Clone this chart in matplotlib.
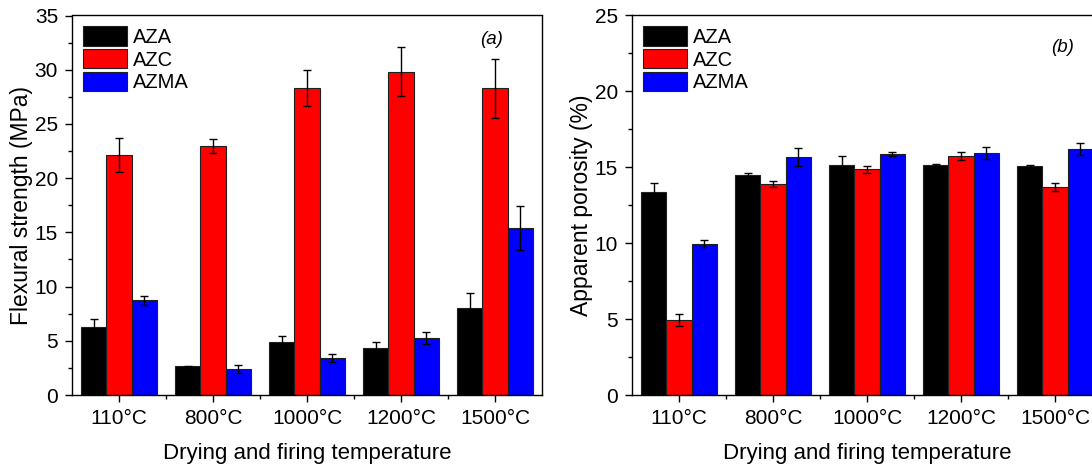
"""
Flexural strength (a) and apparent porosity (b) of the AZA / AZC / AZMA
samples after drying and firing at each temperature.
"""
import matplotlib
matplotlib.use("Agg")
import matplotlib.pyplot as plt
import numpy as np

plt.rcParams["font.family"] = ["Liberation Sans", "DejaVu Sans"]

temps = ["110°C", "800°C", "1000°C", "1200°C", "1500°C"]
series = ["AZA", "AZC", "AZMA"]
colors = ["#000000", "#ff0000", "#0000ff"]

# (a) flexural strength, MPa
strength_aza = [6.25, 2.65, 4.88, 4.33, 7.98]
strength_azc = [22.13, 22.96, 28.3, 29.81, 28.27]
strength_azma = [8.73, 2.43, 3.41, 5.29, 15.4]
strength_aza_err = [0.77, 0.06, 0.55, 0.59, 1.44]
strength_azc_err = [1.59, 0.67, 1.63, 2.27, 2.73]
strength_azma_err = [0.4, 0.37, 0.4, 0.55, 2.0]

# (b) apparent porosity, %
poros_aza = [13.37, 14.49, 15.17, 15.17, 15.08]
poros_azc = [4.96, 13.87, 14.86, 15.76, 13.7]
poros_azma = [9.96, 15.65, 15.85, 15.96, 16.22]
poros_aza_err = [0.61, 0.13, 0.59, 0.06, 0.1]
poros_azc_err = [0.4, 0.2, 0.24, 0.28, 0.28]
poros_azma_err = [0.24, 0.59, 0.13, 0.39, 0.4]

W, H = 1092, 469
fig = plt.figure(figsize=(W / 100, H / 100), dpi=100)


def panel(rect, vals, errs, ymax, ylabel, tag, tag_xy):
    ax = fig.add_axes(rect)
    x = np.arange(1, len(temps) + 1)
    bw = 0.267
    for i, (v, e) in enumerate(zip(vals, errs)):
        ax.bar(x + (i - 1) * bw, v, bw, yerr=e, color=colors[i],
               edgecolor="#202020", linewidth=0.8, label=series[i],
               capsize=3, error_kw=dict(elinewidth=1, capthick=1, ecolor="black"))
    ax.set_xlim(0.5, 5.5)
    ax.set_ylim(0, ymax)
    ax.set_xticks(x)
    ax.set_xticklabels(temps)
    ax.set_xticks(x[:-1] + 0.5, minor=True)
    ax.set_yticks(np.arange(0, ymax + 1, 5))
    ax.set_yticks(np.arange(2.5, ymax, 5), minor=True)
    ax.tick_params(which="both", direction="out", labelsize=15, width=1,
                   top=False, right=False)
    ax.tick_params(which="major", length=5, pad=5)
    ax.tick_params(which="minor", length=3)
    for s in ax.spines.values():
        s.set_linewidth(1)
    ax.set_xlabel("Drying and firing temperature", fontsize=16, labelpad=11)
    ax.set_ylabel(ylabel, fontsize=16.5, labelpad=1)
    ax.legend(loc="upper left", bbox_to_anchor=(11 / 470, 1 - 11 / 380),
              frameon=False, fontsize=14.5, borderpad=0, borderaxespad=0,
              handlelength=2.2, handleheight=1.1, labelspacing=0.1,
              handletextpad=0.3)
    ax.text(*tag_xy, tag, transform=ax.transAxes, fontsize=13.5,
            style="italic", ha="center", va="center")
    return ax


bottom = (H - 395) / H
height = 379.5 / H
width = 470 / W

panel([72 / W, bottom, width, height],
      [strength_aza, strength_azc, strength_azma],
      [strength_aza_err, strength_azc_err, strength_azma_err],
      35, "Flexural strength (MPa)", "(a)", ((492 - 72) / 470, 1 - (40 - 15.5) / 379.5))

panel([632 / W, bottom, width, height],
      [poros_aza, poros_azc, poros_azma],
      [poros_aza_err, poros_azc_err, poros_azma_err],
      25, "Apparent porosity (%)", "(b)", ((1063 - 632) / 470, 1 - (48 - 15.5) / 379.5))

fig.savefig("out.png", dpi=100)
